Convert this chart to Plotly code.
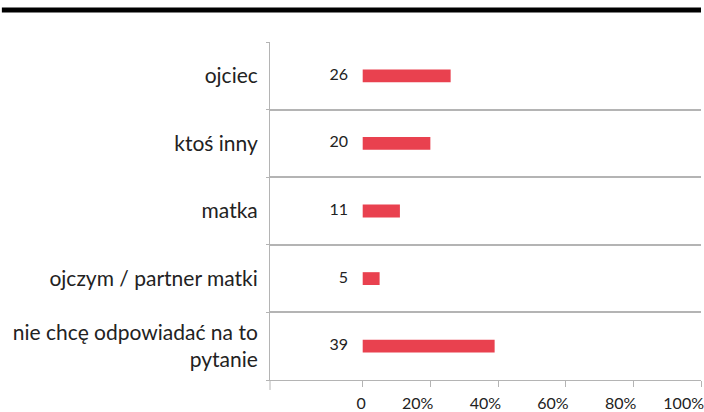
import plotly.graph_objects as go

categories = ["ojciec", "ktoś inny", "matka", "ojczym / partner matki", "nie chcę odpowiadać na to<br>pytanie"]
values = [26, 20, 11, 5, 39]
value_labels = ["26", "20", "11", "5", "39"]
tick_vals = [0, 20, 40, 60, 80, 100]
tick_text = ["0", "20%", "40%", "60%", "80%", "100%"]

W, H = 704, 412
ML, MR, MT, MB = 270, 0, 42, 31
BAR_COLOR = "#E9414F"
GRID = "#b4b4b4"
FONT = "Lato"

fig = go.Figure()
fig.add_trace(go.Bar(
    y=categories, x=values, orientation="h",
    marker=dict(color=BAR_COLOR, line=dict(width=0)),
    width=0.19, hoverinfo="skip",
))
fig.add_trace(go.Scatter(
    y=categories, x=[-4.3] * len(values), mode="text",
    text=value_labels, textposition="middle left",
    textfont=dict(family=FONT, size=16, color="#222222"),
    hoverinfo="skip",
))

fig.update_layout(
    width=W, height=H,
    margin=dict(l=ML, r=MR, t=MT, b=MB),
    plot_bgcolor="white", paper_bgcolor="white",
    showlegend=False,
    font=dict(family=FONT, color="#222222"),
    xaxis=dict(
        range=[-27.4, 100], tickvals=tick_vals, ticktext=tick_text,
        showgrid=False, zeroline=False,
        showline=True, linecolor=GRID, linewidth=1,
        ticks="outside", ticklen=6, tickcolor=GRID,
        ticklabelposition="outside left", ticklabeloverflow="allow",
        ticklabelstandoff=9, ticklabelshift=4,
        tickfont=dict(family=FONT, size=16, color="#222222"),
        fixedrange=True,
    ),
    yaxis=dict(
        type="category", categoryorder="array", categoryarray=categories[::-1],
        autorange=False, range=[-0.5, 4.5],
        tickson="boundaries", showgrid=True, gridcolor=GRID, gridwidth=1.5,
        showline=True, linecolor=GRID, linewidth=1,
        ticks="outside", ticklen=3, tickcolor=GRID,
        tickfont=dict(family=FONT, size=21, color="#222222"),
        ticklabelstandoff=7,
        fixedrange=True,
    ),
    shapes=[
        dict(type="line", xref="paper", yref="paper",
             x0=-ML / (W - ML - MR), x1=1.0, y0=(H - MB - 10) / (H - MT - MB),
             y1=(H - MB - 10) / (H - MT - MB),
             line=dict(color="black", width=5)),
        dict(type="line", xref="paper", yref="paper",
             x0=0, x1=0, y0=0, y1=-10 / (H - MT - MB),
             line=dict(color=GRID, width=1)),
    ],
)

fig.write_html("out.html", config={"displayModeBar": False},
               post_script="document.body.style.margin='0';document.body.style.overflow='hidden';")
